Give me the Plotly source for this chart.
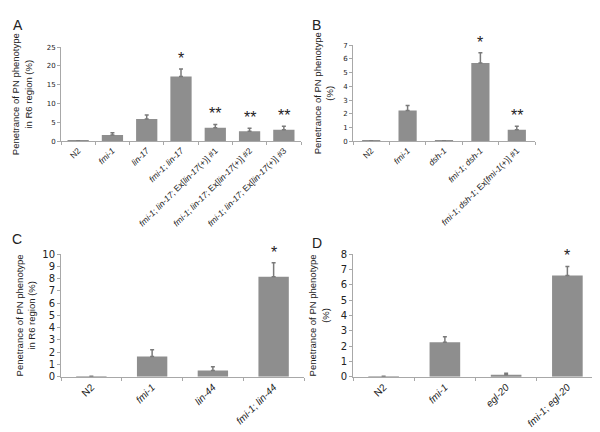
import plotly.graph_objects as go

W, H = 600, 432

# Panel A
cats_a = ["N2", "<i>fmi-1</i>", "<i>lin-17</i>", "<i>fmi-1</i>; <i>lin-17</i>",
          "<i>fmi-1</i>; <i>lin-17</i>; Ex[<i>lin-17</i>(+)] #1",
          "<i>fmi-1</i>; <i>lin-17</i>; Ex[<i>lin-17</i>(+)] #2",
          "<i>fmi-1</i>; <i>lin-17</i>; Ex[<i>lin-17</i>(+)] #3"]
vals_a = [0.1, 1.7, 5.9, 17.2, 3.6, 2.7, 3.1]
err_a = [0.0, 0.6, 1.1, 2.0, 0.9, 0.8, 0.9]
sig_a = ["", "", "", "*", "**", "**", "**"]

# Panel B
cats_b = ["N2", "<i>fmi-1</i>", "<i>dsh-1</i>", "<i>fmi-1</i>; <i>dsh-1</i>",
          "<i>fmi-1</i>; <i>dsh-1</i>; Ex[<i>fmi-1</i>(+)] #1"]
vals_b = [0.02, 2.25, 0.02, 5.7, 0.85]
err_b = [0.0, 0.35, 0.0, 0.75, 0.25]
sig_b = ["", "", "", "*", "**"]

# Panel C
cats_c = ["N2", "<i>fmi-1</i>", "<i>lin-44</i>", "<i>fmi-1</i>; <i>lin-44</i>"]
vals_c = [0.03, 1.65, 0.5, 8.15]
err_c = [0.0, 0.55, 0.3, 1.15]
sig_c = ["", "", "", "*"]

# Panel D
cats_d = ["N2", "<i>fmi-1</i>", "<i>egl-20</i>", "<i>fmi-1</i>; <i>egl-20</i>"]
vals_d = [0.02, 2.25, 0.12, 6.6]
err_d = [0.0, 0.35, 0.1, 0.6]
sig_d = ["", "", "", "*"]

panels = [
    dict(cats=cats_a, vals=vals_a, err=err_a, sig=sig_a, x=(53, 293), y=(131, 34), rng=25, dt=5,
         title="Penetrance of PN phenotype<br>in R6 region (%)", letter="A", lpos=(3, 1),
         tick=7, cat=8.5, bw=0.62, so=12),
    dict(cats=cats_b, vals=vals_b, err=err_b, sig=sig_b, x=(345, 527), y=(131, 32), rng=7, dt=1,
         title="Penetrance of PN phenotype<br>(%)", letter="B", lpos=(302, 1),
         tick=7, cat=8.5, bw=0.5, so=7),
    dict(cats=cats_c, vals=vals_c, err=err_c, sig=sig_c, x=(53, 296), y=(373, 247), rng=10, dt=1,
         title="Penetrance of PN phenotype<br>in R6 region (%)", letter="C", lpos=(2, 221),
         tick=10, cat=10, bw=0.5, so=4),
    dict(cats=cats_d, vals=vals_d, err=err_d, sig=sig_d, x=(345, 590), y=(373, 247), rng=8, dt=1,
         title="Penetrance of PN phenotype<br>(%)", letter="D", lpos=(302, 225),
         tick=10, cat=10, bw=0.5, so=9),
]

fig = go.Figure()
annotations = []
BAR = "#8e8e8e"
AX = "#a8a8a8"

for i, p in enumerate(panels, start=1):
    xn = "x" if i == 1 else f"x{i}"
    yn = "y" if i == 1 else f"y{i}"
    fig.add_trace(go.Bar(
        x=p["cats"], y=p["vals"], xaxis=xn, yaxis=yn, width=p["bw"],
        marker=dict(color=BAR, line=dict(width=0)),
        error_y=dict(type="data", array=p["err"], arrayminus=[0] * len(p["err"]),
                     symmetric=False, color="#7a7a7a", thickness=1.5, width=2),
        showlegend=False,
    ))
    for c, v, e, s in zip(p["cats"], p["vals"], p["err"], p["sig"]):
        if s:
            annotations.append(dict(x=c, y=v + e, xref=xn, yref=yn, text=s, showarrow=False,
                                    yanchor="bottom", yshift=0,
                                    font=dict(size=16, color="#222", family="Liberation Sans")))
    xdom = [p["x"][0] / W, p["x"][1] / W]
    ydom = [1 - p["y"][0] / H, 1 - p["y"][1] / H]
    xa = dict(domain=xdom, anchor=yn, showline=True, linecolor=AX, linewidth=1,
              ticks="outside", tickson="boundaries", ticklen=3, tickcolor=AX,
              tickangle=-45, tickfont=dict(size=p["cat"], color="#222", family="Liberation Sans"),
              showgrid=False)
    ya = dict(domain=ydom, anchor=xn, range=[0, p["rng"]], dtick=p["dt"], showline=True,
              linecolor=AX, linewidth=1, ticks="outside", ticklen=3, tickcolor=AX,
              tickfont=dict(size=p["tick"], color="#222", family="DejaVu Sans"),
              showgrid=False, zeroline=False,
              title=dict(text=p["title"], font=dict(size=9.5, color="#222", family="Liberation Sans"),
                         standoff=p["so"]))
    key = "" if i == 1 else str(i)
    fig.layout["xaxis" + key] = xa
    fig.layout["yaxis" + key] = ya
    annotations.append(dict(x=p["lpos"][0] / W, y=1 - p["lpos"][1] / H, xref="paper", yref="paper",
                            text=p["letter"], showarrow=False, xanchor="left", yanchor="top",
                            font=dict(size=14, color="#222", family="Liberation Sans")))

fig.update_layout(width=W, height=H, margin=dict(l=0, r=0, t=0, b=0),
                  paper_bgcolor="white", plot_bgcolor="white", annotations=annotations,
                  bargap=0.4)
fig.write_html("out.html")
